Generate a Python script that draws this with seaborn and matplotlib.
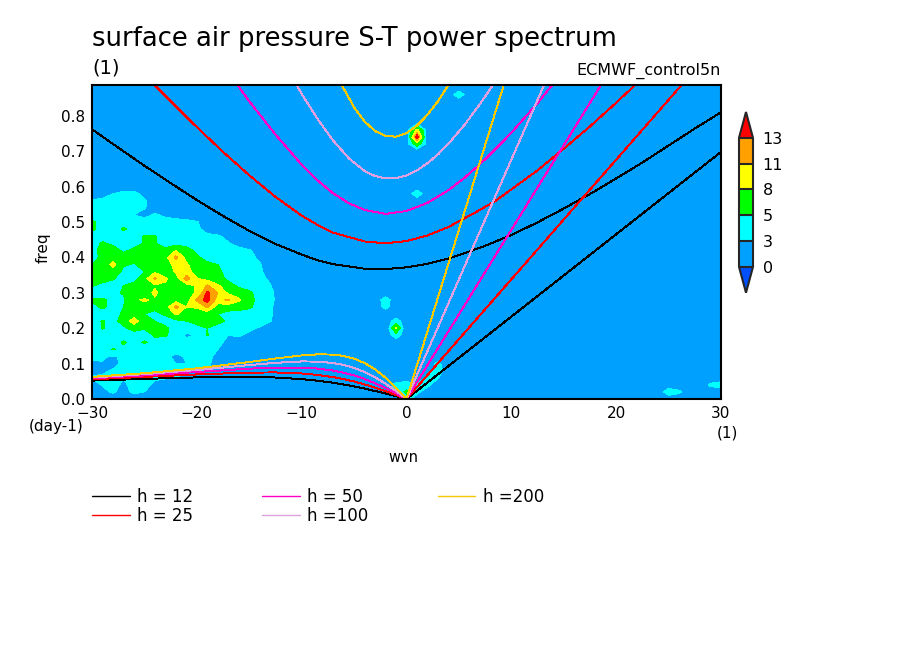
"""Space-time power spectrum of surface pressure with dispersion curves."""
import matplotlib
matplotlib.use('Agg')
import matplotlib.pyplot as plt
from matplotlib.colors import from_levels_and_colors
from matplotlib.lines import Line2D
from matplotlib.ticker import MultipleLocator
import numpy as np
import pandas as pd
import seaborn as sns

# contour classes
levels = [0, 3, 5, 8, 11, 13]
level_colors = ['#0050ff', '#00a0ff', '#00ffff', '#00ff00', '#ffff00', '#ffa000', '#ff0000']
background_power = 2.0

# spectrum, west_wvn = -30..-13, rows are freq 0.00, 0.02, ... 0.60
west_wvn = list(range(-30, -12))
west_power = [
    [2, 2, 2, 2, 2, 2, 2, 2, 2, 2, 2, 2, 2, 2, 2, 2, 2, 2],
    [2, 2.6, 3.2, 2.4, 3.4, 3, 2.4, 2, 2, 2, 2, 2, 2, 2, 2, 2, 2, 2],
    [2.5, 3.1, 3.5, 2.7, 3.5, 3.5, 2.7, 2.5, 2.3, 2.2, 2, 2, 2, 2, 2, 2, 2, 2],
    [3.1, 3.2, 3.3, 3.1, 3.4, 3.4, 3.2, 3.1, 3, 2.8, 2.6, 2.5, 2.2, 2.1, 2, 2, 2, 2],
    [2.7, 2.8, 3.1, 3.3, 3.5, 3.6, 3.4, 3.3, 3.2, 3.1, 3.1, 3, 2.6, 2.2, 2, 2, 2, 2],
    [2.6, 2.9, 2.7, 3.2, 3.5, 3.4, 3.2, 3.1, 3, 3, 3.1, 3.1, 2.8, 2.4, 2.1, 2, 2, 2],
    [3.5, 3.2, 2.8, 3.3, 3.5, 3.5, 3.4, 3.2, 2.8, 3.1, 3.2, 3.1, 2.9, 2.5, 2.1, 2, 2, 2],
    [3.4, 3.6, 5.2, 4.5, 3.8, 3.6, 3.5, 3.2, 3.3, 3.2, 3.2, 3.1, 3, 2.8, 2.2, 2, 2, 2],
    [3.5, 3.5, 4, 5.3, 4.2, 5.3, 4.2, 3.8, 3.6, 3.5, 3.4, 3.3, 3.1, 2.9, 2.6, 2.1, 2, 2],
    [3.5, 3.6, 3.7, 3.8, 3.7, 3.8, 5.3, 5.3, 3.8, 2.7, 3.2, 5.2, 3.2, 3, 3.1, 2.8, 2.2, 2],
    [3.6, 5.2, 4, 4.5, 6, 5.2, 5.2, 5.5, 4, 3.7, 3.5, 5, 3.6, 3.5, 3.4, 3.2, 2.9, 2.1],
    [3.8, 5.2, 4.2, 6, 9.5, 6, 5, 4, 4.2, 5, 6.5, 7, 6, 4.5, 3.8, 3.6, 3.5, 3.1],
    [3.8, 3.8, 3.8, 5.5, 6.5, 5, 4.5, 5.3, 8.5, 6.5, 6, 6, 5, 4.3, 4, 3.8, 3.6, 3.3],
    [4.2, 5.5, 4, 5, 6.5, 7, 5.5, 6.5, 12, 8, 8.5, 11.5, 6.3, 6, 6, 5.4, 4, 3.3],
    [5.3, 5.3, 4.5, 4.5, 7.5, 8.4, 7.5, 6, 6.5, 6.5, 11.5, 14, 10, 11.5, 8.6, 5.8, 4.2, 3.6],
    [4, 4, 4.2, 5.3, 6, 6, 8.8, 6, 6, 6.5, 8.5, 13.5, 11, 7.5, 6.3, 5.5, 4, 3.5],
    [5.2, 4.3, 4, 5, 6, 6.5, 7.5, 7.5, 8, 6.5, 8.3, 11.5, 8.5, 6, 4.6, 3.9, 3.4, 3.1],
    [6, 6, 5.2, 4, 4, 7, 11.5, 8.5, 6.5, 12.5, 8.2, 7, 6, 4.5, 4, 3.6, 3.3, 2.8],
    [6, 6, 6.5, 4.5, 4.5, 5, 7.5, 6, 8.5, 9.5, 6.5, 5.8, 5.4, 4.3, 3.8, 3.6, 3.2, 2.5],
    [5, 6, 9, 5.3, 4.8, 6, 6, 6.5, 9, 8.5, 6, 5.5, 5, 4, 3.7, 3.5, 3.1, 2.4],
    [4.2, 5.5, 6.5, 6, 6, 6.5, 6, 7, 11.8, 7, 5.4, 4.2, 3.7, 3.5, 3.5, 3.3, 2.8, 2.2],
    [4, 6, 6, 4.6, 5.5, 6.5, 6.5, 5.5, 8, 6, 4.4, 3.8, 3.5, 3.3, 3.4, 3.1, 2.6, 2],
    [4, 5.3, 4.5, 4, 4, 5.2, 5.2, 4, 4, 4, 3.8, 3.5, 3.3, 3.1, 2.5, 2.2, 2, 2],
    [4, 4, 4, 4, 4, 5.2, 5.2, 3.8, 3.6, 3.5, 3.4, 3.3, 3.2, 2.6, 2.1, 2, 2, 2],
    [5.5, 4, 4, 5.3, 4.2, 3.5, 3, 3.5, 3.5, 3.5, 3.3, 2.5, 2, 2, 2, 2, 2, 2],
    [5.5, 4, 3.8, 3.8, 3.8, 3.8, 3.4, 3.6, 3.5, 3.4, 3.1, 2.4, 2, 2, 2, 2, 2, 2],
    [4, 4, 4, 3.3, 3, 2.5, 3.2, 2.7, 2.4, 2.2, 2, 2, 2, 2, 2, 2, 2, 2],
    [3.5, 3.5, 3.5, 3.5, 3.5, 3.1, 2.4, 2, 2, 2, 2, 2, 2, 2, 2, 2, 2, 2],
    [3.2, 3.5, 3.5, 3.5, 3.5, 3.2, 2.3, 2, 2, 2, 2, 2, 2, 2, 2, 2, 2, 2],
    [2, 2, 3, 3.5, 3.5, 2.5, 2, 2, 2, 2, 2, 2, 2, 2, 2, 2, 2, 2],
    [2, 2, 2, 2, 2, 2, 2, 2, 2, 2, 2, 2, 2, 2, 2, 2, 2, 2],
]

# isolated patches elsewhere in the spectrum
spot_wvn = [1, 1, 1, 1, 1, 0, 2, -1, -1, -1, -1, -1, 0, -2, -2, -2, 1, 5,
            0, 0, 0, -1, -1, 1, 1, 2, 2, 3, 3, 3, 25, 26, 29, 30]
spot_freq = [0.74, 0.76, 0.72, 0.78, 0.70, 0.74, 0.74, 0.20, 0.22, 0.18, 0.24, 0.16, 0.20, 0.20, 0.28, 0.26, 0.58, 0.86,
             0.02, 0.04, 0.00, 0.02, 0.04, 0.02, 0.04, 0.04, 0.06, 0.08, 0.10, 0.06, 0.02, 0.02, 0.04, 0.04]
spot_power = [15, 9, 6.5, 2, 1.5, 0.5, 0.5, 8.2, 3.8, 3.8, 2, 2, 0.5, 0.5, 3.8, 3.5, 4, 4,
              5.5, 3.8, 4, 3.5, 3.5, 3.5, 3.3, 3.5, 3.2, 3.8, 3.4, 3.1, 4, 3.3, 3.3, 3.8]

# dispersion curves: westward low frequency branch
low_wvn = [-30, -25, -20, -15, -12.5, -10, -8.5, -7, -6, -5, -4, -3, -2, -1, 0]
low_h12 = [0.052, 0.0568, 0.061, 0.0624, 0.0607, 0.0562, 0.0518, 0.0459, 0.0411, 0.0356, 0.0294, 0.0226, 0.0154, 0.0078, 0]
low_h25 = [0.0558, 0.0624, 0.0694, 0.0746, 0.075, 0.0721, 0.0681, 0.0618, 0.0562, 0.0494, 0.0413, 0.0322, 0.022, 0.0112, 0]
low_h50 = [0.0586, 0.0667, 0.0763, 0.0857, 0.0889, 0.0888, 0.086, 0.0803, 0.0744, 0.0665, 0.0566, 0.0446, 0.0309, 0.0158, 0]
low_h100 = [0.0608, 0.0702, 0.082, 0.0958, 0.1022, 0.1061, 0.1057, 0.1017, 0.0962, 0.088, 0.0764, 0.0614, 0.0431, 0.0223, 0]
low_h200 = [0.0625, 0.0728, 0.0866, 0.1045, 0.1144, 0.1231, 0.1261, 0.1255, 0.1216, 0.1141, 0.1016, 0.0837, 0.0599, 0.0314, 0]

# eastward straight branch, freq at wvn 0 and 30
east_wvn = [0, 30]
east_h12 = [0, 0.698]
east_h25 = [0, 1.014]
east_h50 = [0, 1.434]
east_h100 = [0, 2.028]
east_h200 = [0, 2.868]

# high frequency parabolas
high_h12_wvn = [-30, -27.5, -25, -22.5, -20, -17.5, -15, -12.5, -10, -8.5, -7, -4, -2, 0, 2, 4, 7, 8.5, 10, 12.5, 15, 17.5, 20, 22.5, 25, 27.5, 30]
high_h12 = [0.762, 0.71, 0.659, 0.61, 0.562, 0.517, 0.475, 0.438, 0.408, 0.392, 0.381, 0.368, 0.367, 0.372, 0.382, 0.397, 0.427, 0.445, 0.463, 0.499, 0.538, 0.579, 0.623, 0.668, 0.716, 0.764, 0.81]
high_h25_wvn = [-30, -25, -22.5, -20, -17.5, -15, -12.5, -10, -8.5, -7, -4, -2, 0, 2, 4, 7, 8.5, 10, 12.5, 15, 17.5, 20, 22.5, 25, 30]
high_h25 = [1.07, 0.916, 0.841, 0.768, 0.698, 0.632, 0.571, 0.518, 0.492, 0.47, 0.445, 0.44, 0.446, 0.462, 0.486, 0.534, 0.56, 0.592, 0.646, 0.707, 0.77, 0.837, 0.906, 0.978, 1.125]
high_h50_wvn = [-20, -15, -12.5, -10, -8.5, -7, -5.5, -4, -2, 0, 2, 4, 5.5, 7, 8.5, 10, 12.5, 15, 20]
high_h50 = [1.045, 0.841, 0.747, 0.662, 0.618, 0.581, 0.553, 0.534, 0.523, 0.531, 0.554, 0.59, 0.624, 0.663, 0.706, 0.752, 0.836, 0.927, 1.121]
high_h100_wvn = [-15, -12, -10, -8.5, -7, -5.5, -4, -3, -2, -1, 0, 1, 2, 3, 4, 5.5, 7, 8.5, 10, 15]
high_h100 = [1.134, 0.967, 0.862, 0.792, 0.73, 0.68, 0.644, 0.63, 0.623, 0.624, 0.631, 0.646, 0.666, 0.691, 0.721, 0.773, 0.833, 0.898, 0.969, 1.23]
high_h200_wvn = [-7, -5, -4, -3, -2, -1, 0, 1, 2, 3, 4, 5, 7]
high_h200 = [0.931, 0.824, 0.784, 0.757, 0.743, 0.741, 0.751, 0.772, 0.803, 0.841, 0.887, 0.939, 1.059]

h_labels = ['h = 12', 'h = 25', 'h = 50', 'h =100', 'h =200']
h_colors = ['#000000', '#ff0000', '#ff00c8', '#e0a0e0', '#f5c800']

# put the table and the patches on one grid
wvn_grid = np.arange(-30, 31)
freq_grid = np.arange(46) * 0.02
power = np.full((len(freq_grid), len(wvn_grid)), background_power)
power[:len(west_power), :len(west_wvn)] = west_power
for w, f, p in zip(spot_wvn, spot_freq, spot_power):
    power[int(round(f / 0.02)), w + 30] = p

# long table of the curves, one unit per branch
branches = [
    (h_labels[0], 'low', low_wvn, low_h12), (h_labels[0], 'east', east_wvn, east_h12), (h_labels[0], 'high', high_h12_wvn, high_h12),
    (h_labels[1], 'low', low_wvn, low_h25), (h_labels[1], 'east', east_wvn, east_h25), (h_labels[1], 'high', high_h25_wvn, high_h25),
    (h_labels[2], 'low', low_wvn, low_h50), (h_labels[2], 'east', east_wvn, east_h50), (h_labels[2], 'high', high_h50_wvn, high_h50),
    (h_labels[3], 'low', low_wvn, low_h100), (h_labels[3], 'east', east_wvn, east_h100), (h_labels[3], 'high', high_h100_wvn, high_h100),
    (h_labels[4], 'low', low_wvn, low_h200), (h_labels[4], 'east', east_wvn, east_h200), (h_labels[4], 'high', high_h200_wvn, high_h200),
]
curves = pd.concat([
    pd.DataFrame({'h': h, 'branch': b, 'wvn': x, 'freq': y}) for h, b, x, y in branches
], ignore_index=True)

sns.set_style('white')
plt.rcParams['font.family'] = 'DejaVu Sans'

W, H = 904, 654
fig = plt.figure(figsize=(W / 100, H / 100), dpi=100, facecolor='white')
ax = fig.add_axes([92 / W, 1 - 399 / H, (721 - 92) / W, (399 - 85) / H])

cmap, norm = from_levels_and_colors(levels, level_colors, extend='both')
field = ax.contourf(wvn_grid, freq_grid, power, levels=levels, cmap=cmap, norm=norm, extend='both', antialiased=False)

sns.lineplot(data=curves, x='wvn', y='freq', hue='h', units='branch', estimator=None, sort=False,
             hue_order=h_labels, palette=h_colors, linewidth=0.7, antialiased=False, legend=False, ax=ax)

ax.set_xlim(-30, 30)
ax.set_ylim(0, 0.887)
ax.set_xlabel('')
ax.set_ylabel('')
ax.xaxis.set_major_locator(MultipleLocator(10))
ax.xaxis.set_minor_locator(MultipleLocator(2))
ax.yaxis.set_major_locator(MultipleLocator(0.1))
ax.yaxis.set_minor_locator(MultipleLocator(0.05))
ax.tick_params(which='major', direction='in', length=5, width=1.2, top=True, right=True, bottom=True, left=True,
               labelsize=11, colors='black')
ax.tick_params(axis='x', which='major', pad=5)
ax.tick_params(axis='y', which='major', pad=5)
ax.tick_params(which='minor', direction='in', length=2.5, width=0.8, top=True, right=True, bottom=True, left=True)
for side in ax.spines.values():
    side.set_visible(True)
    side.set_linewidth(1.5)
    side.set_color('black')

# colour bar with triangular ends, the axes holds the triangles too
cax = fig.add_axes([739 / W, 1 - 292.7 / H, 14 / W, 180.7 / H])
cbar = fig.colorbar(field, cax=cax, extend='both', extendfrac=0.2, spacing='uniform', drawedges=True)
cbar.set_ticks(levels)
cbar.set_ticklabels([str(v) for v in levels])
cbar.ax.tick_params(length=0, labelsize=11.5, pad=7, colors='black')
cbar.outline.set_linewidth(1.5)
cbar.dividers.set_linewidth(1.5)


def px_text(x, y, s, **kw):
    fig.text(x / W, 1 - y / H, s, color='black', **kw)


px_text(92, 46, 'surface air pressure S-T power spectrum', fontsize=18.6, va='baseline')
px_text(92, 74, '(1)', fontsize=14, va='baseline')
px_text(721, 75, 'ECMWF_control5n', fontsize=11.5, ha='right', va='baseline')
px_text(84, 431, '(day-1)', fontsize=11, ha='right', va='baseline')
px_text(738, 438, '(1)', fontsize=11, ha='right', va='baseline')
px_text(403, 462, 'wvn', fontsize=10.5, ha='center', va='baseline')
px_text(51, 248, 'freq', fontsize=11, rotation=90, ha='right', va='center')

handles = [Line2D([], [], color=c, linewidth=1, antialiased=False) for c in h_colors]
fig.legend(handles, h_labels, ncol=3, loc='upper left', bbox_to_anchor=(92 / W, 1 - 488 / H),
           frameon=False, fontsize=12, labelcolor='black', borderpad=0, borderaxespad=0, handlelength=2.25,
           handletextpad=0.45, columnspacing=4.15, labelspacing=0.05)

fig.savefig('out.png', dpi=100)
plt.close(fig)
